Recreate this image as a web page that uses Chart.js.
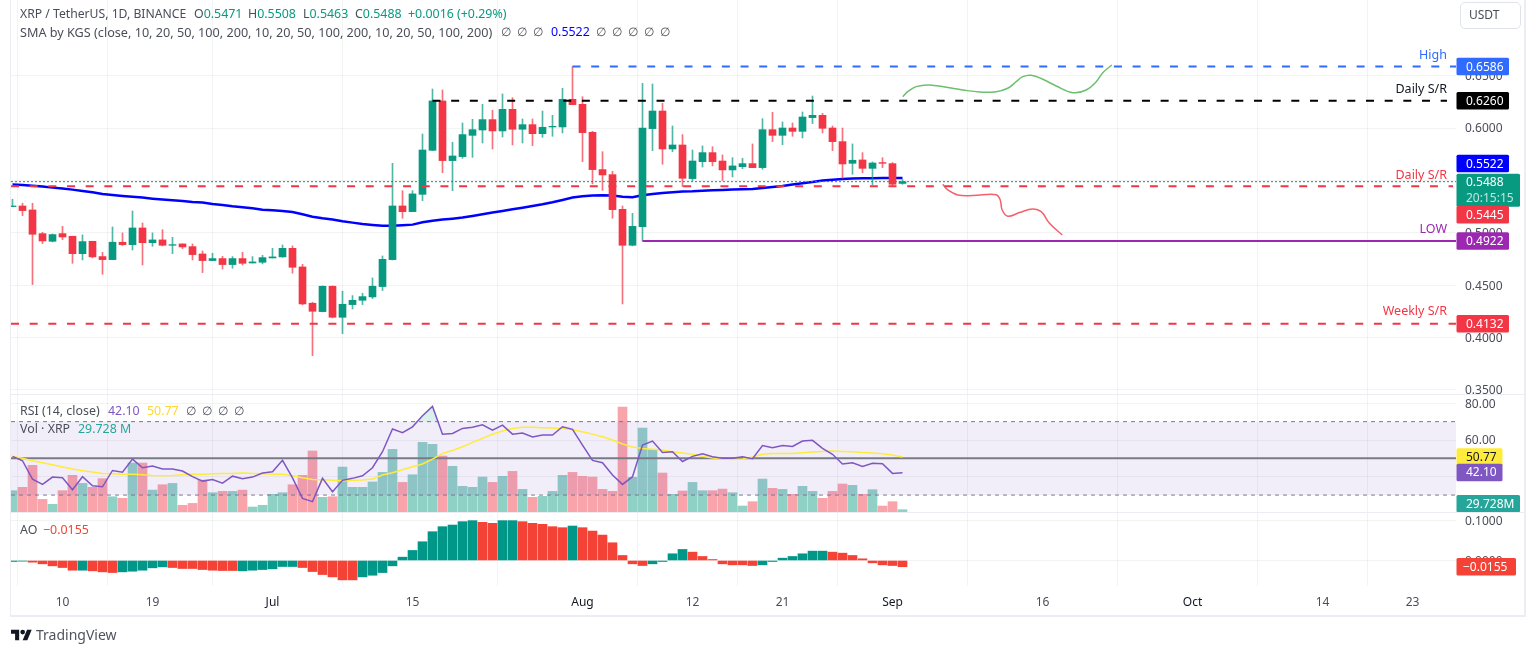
<!DOCTYPE html>
<html><head><meta charset="utf-8">
<script src="https://cdn.jsdelivr.net/npm/chart.js@4"></script>
<style>
html,body{margin:0;padding:0;background:#fff;width:1536px;height:653px;overflow:hidden;font-family:"Noto Sans",sans-serif}
canvas{position:absolute;left:0;display:block}
.t{position:absolute;white-space:pre;font-size:12.4px;line-height:16px;color:#4a4e59}
.fr{position:absolute;background:#ecedf2}
.g{color:#089981}
</style></head><body>
<canvas id="cPrice" width="1536" height="394" style="top:0"></canvas>
<canvas id="cRsi" width="1536" height="119" style="top:394px"></canvas>
<canvas id="cAo" width="1536" height="103" style="top:513px"></canvas>
<div class="fr" style="left:10px;top:0;width:1px;height:616px"></div>
<div class="fr" style="left:1524px;top:0;width:2px;height:616px"></div>
<div class="fr" style="left:10px;top:615px;width:1516px;height:2px"></div>
<div class="fr" style="left:11px;top:394px;width:1513px;height:1px"></div>
<div class="fr" style="left:11px;top:512px;width:1513px;height:1px"></div>
<div class="t" style="left:20px;top:6px;font-size:12.2px">XRP / TetherUS, 1D, BINANCE</div>
<div class="t" style="left:194px;top:6px">O<span class="g">0.5471</span></div>
<div class="t" style="left:248px;top:6px">H<span class="g">0.5508</span></div>
<div class="t" style="left:303px;top:6px">L<span class="g">0.5463</span></div>
<div class="t" style="left:355px;top:6px">C<span class="g">0.5488</span></div>
<div class="t g" style="left:408px;top:6px;color:#089981">+0.0016 (+0.29%)</div>
<div class="t" style="left:20px;top:24px;font-size:12.65px">SMA by KGS (close, 10, 20, 50, 100, 200, 10, 20, 50, 100, 200, 10, 20, 50, 100, 200)</div>
<div class="t" style="left:501px;top:24px;font-size:12px">∅</div>
<div class="t" style="left:517px;top:24px;font-size:12px">∅</div>
<div class="t" style="left:533px;top:24px;font-size:12px">∅</div>
<div class="t" style="left:551px;top:24px;color:#0000ff">0.5522</div>
<div class="t" style="left:596px;top:24px;font-size:12px">∅</div>
<div class="t" style="left:612px;top:24px;font-size:12px">∅</div>
<div class="t" style="left:628px;top:24px;font-size:12px">∅</div>
<div class="t" style="left:644px;top:24px;font-size:12px">∅</div>
<div class="t" style="left:660px;top:24px;font-size:12px">∅</div>
<div class="t" style="left:20px;top:403px">RSI (14, close)</div>
<div class="t" style="left:108px;top:403px;color:#7e57c2">42.10</div>
<div class="t" style="left:147px;top:403px;color:#fdd835">50.77</div>
<div class="t" style="left:186px;top:403px;font-size:12px">∅</div>
<div class="t" style="left:202px;top:403px;font-size:12px">∅</div>
<div class="t" style="left:218px;top:403px;font-size:12px">∅</div>
<div class="t" style="left:234px;top:403px;font-size:12px">∅</div>
<div class="t" style="left:20px;top:421px">Vol · XRP</div>
<div class="t" style="left:78px;top:421px;color:#26a69a">29.728 M</div>
<div class="t" style="left:20px;top:522px">AO</div>
<div class="t" style="left:43px;top:522px;color:#f44336">−0.0155</div>
<div style="position:absolute;left:1460px;top:2px;width:59px;height:25px;border:1px solid #e0e3eb;border-radius:5px"></div>
<div class="t" style="left:1469px;top:7px;font-size:12px">USDT</div>
<svg style="position:absolute;left:11px;top:628px" width="21" height="14" viewBox="0 3 36 20"><path fill="#131722" d="M14 22H7V11H0V4h14v18zM28 22h-8l7.5-18h8L28 22z"/><circle fill="#131722" cx="20" cy="8" r="4"/></svg>
<div class="t" style="left:36px;top:626px;font-size:14px;line-height:18px;color:#50535e">TradingView</div>
<script>
// ---- data (days counted from 5 June) ----
const open  = [.5250,.5256,.5218,.4992,.4919,.4992,.4967,.4801,.4919,.4773,.4744,.4910,.4887,.5046,.4906,.4932,.4881,.4894,.4868,.4798,.4735,.4754,.4697,.4754,.4712,.4719,.4760,.4770,.4852,.4674,.4328,.4248,.4490,.4194,.4315,.4356,.4388,.4487,.4744,.5256,.5202,.5367,.5787,.6258,.5689,.5727,.5930,.5981,.6080,.5972,.6178,.5988,.6032,.5946,.6010,.6010,.6274,.6226,.5959,.5603,.5555,.5224,.4881,.5059,.5994,.6162,.5800,.5838,.5517,.5679,.5765,.5685,.5600,.5631,.5660,.5622,.5984,.5930,.6000,.5968,.6099,.6121,.6000,.5870,.5663,.5695,.5615,.5670,.5660,.5471];
const high  = [.5320,.5282,.5282,.5005,.4989,.5062,.4967,.4980,.4919,.4814,.5056,.4999,.5208,.5094,.4999,.5030,.4957,.4894,.4894,.4827,.4805,.4776,.4773,.4814,.4773,.4785,.4852,.4884,.4875,.4700,.4337,.4493,.4493,.4442,.4401,.4423,.4569,.4779,.5663,.5402,.5402,.5943,.6372,.6363,.5864,.6048,.6083,.6226,.6169,.6325,.6290,.6086,.6086,.6162,.6121,.6379,.6586,.6299,.5968,.5774,.5587,.5256,.5186,.6426,.6420,.6236,.6019,.5937,.5790,.5829,.5822,.5743,.5717,.5711,.5848,.6089,.6150,.6058,.6048,.6153,.6305,.6140,.6019,.6000,.5848,.5765,.5676,.5717,.5670,.5508];
const low   = [.5250,.5164,.4506,.4897,.4913,.4935,.4709,.4741,.4760,.4604,.4744,.4878,.4836,.4693,.4871,.4875,.4801,.4849,.4741,.4620,.4735,.4655,.4662,.4693,.4712,.4703,.4760,.4766,.4614,.4312,.3828,.4245,.4188,.4038,.4273,.4315,.4372,.4449,.4741,.5139,.5202,.5307,.5784,.5574,.5402,.5711,.5720,.5857,.5800,.5914,.5838,.5857,.5832,.5911,.5921,.5953,.6223,.5679,.5466,.5405,.5139,.4321,.4875,.4922,.5784,.5654,.5774,.5441,.5498,.5628,.5638,.5498,.5533,.5612,.5622,.5606,.5870,.5841,.5921,.5905,.6042,.5953,.5784,.5520,.5558,.5574,.5460,.5622,.5447,.5463];
const close = [.5256,.5212,.4986,.4922,.4983,.4960,.4801,.4916,.4770,.4744,.4910,.4887,.5046,.4906,.4932,.4881,.4887,.4865,.4792,.4735,.4754,.4697,.4754,.4709,.4722,.4763,.4770,.4852,.4671,.4321,.4251,.4490,.4194,.4318,.4356,.4391,.4490,.4747,.5256,.5202,.5371,.5790,.6258,.5689,.5733,.5937,.5984,.6080,.5972,.6178,.5988,.6032,.5946,.6007,.6016,.6274,.6223,.5956,.5603,.5552,.5221,.4881,.5062,.6000,.6162,.5800,.5838,.5520,.5685,.5765,.5679,.5600,.5638,.5660,.5622,.5984,.5930,.6000,.5968,.6105,.6121,.5997,.5870,.5657,.5692,.5615,.5666,.5663,.5463,.5488];
const sma200 = [.5460,.5457,.5450,.5441,.5431,.5422,.5412,.5399,.5387,.5371,.5361,.5352,.5345,.5336,.5326,.5317,.5310,.5304,.5294,.5288,.5275,.5266,.5253,.5243,.5234,.5221,.5215,.5208,.5199,.5177,.5154,.5138,.5126,.5110,.5097,.5084,.5075,.5068,.5068,.5072,.5078,.5100,.5116,.5126,.5135,.5145,.5161,.5177,.5193,.5208,.5224,.5240,.5256,.5272,.5291,.5313,.5336,.5348,.5355,.5358,.5355,.5345,.5339,.5358,.5371,.5380,.5387,.5393,.5396,.5402,.5405,.5409,.5412,.5415,.5418,.5428,.5437,.5447,.5460,.5472,.5485,.5498,.5507,.5514,.5517,.5520,.5520,.5523,.5523,.5522];
const rsi = [51.1,48.7,38.7,35.8,39.8,39.4,32.9,40,35.1,34.5,43.4,42.5,49.6,44.9,45.8,44.2,44.2,43.1,40,37.6,38.5,36.5,40.3,38.9,39.8,42,42.7,48.9,39.4,28.2,26.4,39.1,31.8,38,39.1,40.5,44.9,53.6,66,64,67.2,73.2,78.3,63.2,63.6,66.3,67,68.3,65.4,68.1,63.2,63.8,61.6,62.7,62.7,67.2,65.8,57.2,48.9,47.6,40.9,35.8,40,57.2,59.4,53.2,53.6,48.3,51.1,52.5,50.9,50,50,50.9,49.8,57,55.8,57,56.5,59.4,59.8,55.4,52.2,46.9,47.6,45.6,47.3,47.1,41.8,42.1];
const rsiMa = [51.1,50,48.7,47.6,46.5,45.3,44.2,43.3,42.5,41.8,41.6,41.4,41.4,41.1,40.7,40.5,40.7,41.1,41.3,41.3,41.6,41.8,41.8,42,41.8,41.6,41.4,41.4,40.5,39.4,38.5,38.3,38,37.8,38,38.2,38.7,40.9,42.2,43.8,45.4,46.9,49.6,52.7,54.3,56.3,58.7,60.9,63.1,64.9,66.3,66.9,66.9,66.7,66.5,66.3,65.6,64.5,63.2,61.8,60,57.8,56.2,55.4,55,54.5,53.6,52.9,52.2,51.2,50.2,49.6,49.4,49.6,50.7,52.2,52.7,52.7,52.7,53.1,53.4,53.8,54,53.8,53.6,53.2,52.9,52.5,51.8,50.77];
const volume = [218,251,469,132,83,218,370,290,251,337,158,142,492,492,224,277,290,73,92,323,198,211,211,224,56,73,182,198,277,370,611,152,158,452,251,251,304,399,627,300,376,696,677,561,459,261,251,353,300,360,409,231,152,162,211,370,399,360,353,231,211,1046,350,838,624,393,182,215,300,218,218,234,198,66,109,333,241,231,182,261,211,142,211,284,271,182,228,66,109,29.728];
const ao = [-.0025,-.0017,-.0042,-.0083,-.0133,-.0175,-.0242,-.0242,-.0258,-.0283,-.03,-.0283,-.0267,-.0242,-.0183,-.0158,-.0175,-.02,-.02,-.0225,-.0242,-.025,-.025,-.0258,-.0242,-.0225,-.0208,-.015,-.015,-.0175,-.0275,-.035,-.0408,-.0483,-.0483,-.0408,-.0367,-.03,-.0133,.0083,.025,.0467,.0717,.0842,.0883,.0967,.0992,.095,.0925,.0992,.0992,.0967,.0925,.09,.0842,.0817,.0858,.0817,.0733,.0633,.0442,.0125,-.0083,-.0125,-.0083,-.0025,.0167,.0275,.0208,.01,.0025,-.0083,-.0108,-.0108,-.0125,-.0108,-.0025,.0058,.01,.0167,.0233,.0233,.0208,.0183,.0125,.0042,-.0058,-.0108,-.0125,-.0155];
const aoRising = [1,1,0,0,0,0,0,1,0,0,0,1,1,1,1,1,0,0,0,0,0,0,0,1,1,1,1,1,1,0,0,0,0,0,0,1,1,1,1,1,1,1,1,1,1,1,1,0,0,1,1,0,0,0,0,0,1,0,0,0,0,0,0,0,1,1,1,1,0,0,0,0,0,0,0,1,1,1,1,1,1,1,0,0,0,0,0,0,0,0];
const greenDays = [89.03,89.53,90.37,91.7,93.37,95.03,96.7,98.37,99.53,100.37,101.03,101.87,103.03,104.37,106.03,107.37,108.37,109.03,109.93];
const greenPrices = [.6299,.6347,.6395,.6410,.6388,.6363,.6344,.6347,.6379,.6442,.6490,.6503,.6465,.6401,.6337,.6363,.6442,.6528,.6601];
const redDays = [93.03,93.53,94.53,96.03,98.37,98.77,98.97,99.53,100.7,102.03,102.87,103.7,104.97];
const redPrices = [.5463,.5409,.5361,.5355,.5364,.5313,.5218,.5158,.5193,.5228,.5202,.5091,.4979];
const priceTicks = [.35,.4,.45,.5,.55,.6,.65];
const rsiTicks = [80,60,40];
const aoTicks = [.1,0];
const xTickDays = [5,14,26,40,57,68,77,88,103,118,131,140];
const xTickLabels = ['10','19','Jul','15','Aug','12','21','Sep','16','Oct','14','23'];
const HIGH=.6586, DAILY_UP=.6260, DAILY_DN=.5445, LOW=.4922, WEEKLY=.4132, LAST=.5488, SMA_LAST=.5522;

// ---- drawing settings ----
const days = close.map((_,i)=>i);
const X0=-.15, X1=144.35;
const GREEN='#089981', RED='#F23645';
const isUp = days.map(i=>close[i]>=open[i]);
const FONT='"Noto Sans",sans-serif';
const GRID='rgba(42,46,57,0.06)';
const line=(data,color,w,extra)=>Object.assign({type:'line',data,borderColor:color,borderWidth:w,pointRadius:0,tension:0,fill:false},extra);
const hl=(a,b,v)=>[{x:a,y:v},{x:b,y:v}];
const series=(xs,ys)=>xs.map((x,i)=>({x,y:ys[i]}));
function xAxis(showLabels){return {
  type:'linear',min:X0,max:X1,offset:false,
  afterBuildTicks:s=>{s.ticks=xTickDays.map(v=>({value:v}))},
  afterFit:s=>{s.height=showLabels?30:0;s.paddingLeft=s.paddingRight=0},
  grid:{color:GRID,drawTicks:false},border:{display:false},
  ticks:{display:showLabels,autoSkip:false,maxRotation:0,padding:9,font:{family:FONT,size:12},
    color:c=>/[A-Z]/.test(xTickLabels[c.index]||'')?'#131722':'#4a4e59',
    callback:v=>xTickLabels[xTickDays.indexOf(v)]}
}}
function yAxis(min,max,ticks,digits,extra){return Object.assign({
  type:'linear',position:'right',min,max,
  afterBuildTicks:s=>{s.ticks=ticks.map(v=>({value:v}))},
  afterFit:s=>{s.width=68;s.paddingTop=s.paddingBottom=0},
  grid:{color:GRID,drawTicks:false},border:{display:false},
  ticks:{autoSkip:false,padding:9,labelOffset:1,color:'#4a4e59',font:{family:FONT,size:12},callback:v=>v.toFixed(digits)}
},extra)}
const tagsPlugin={id:'tags',afterDraw(ch,_,o){
  const c=ch.ctx;c.save();c.textBaseline='middle';
  (o.labels||[]).forEach(l=>{
    const y=ch.scales[l.axis].getPixelForValue(l.v);
    c.font='12.5px '+FONT;c.textAlign='right';c.fillStyle=l.color;c.fillText(l.text,1447,y+l.dy);
  });
  (o.items||[]).forEach(t=>{
    const y=ch.scales[t.axis].getPixelForValue(t.v)+(t.dy||0), h=t.h||17.5, x=1456.5;
    c.fillStyle=t.bg;c.beginPath();c.roundRect(x,y-h/2,t.w||52.5,h,1.5);c.fill();
    c.font='12px '+FONT;c.textAlign='left';c.fillStyle=t.fg||'#fff';
    if(t.sub){c.fillText(t.text,1466,y-8);c.fillStyle='rgba(255,255,255,.75)';c.fillText(t.sub,1466,y+8);}
    else c.fillText(t.text,t.tx||1466,y+.5);
  });
  c.restore();
}};
Chart.defaults.animation=false;
Chart.defaults.responsive=false;
Chart.defaults.devicePixelRatio=1;
const common=(top,bottom)=>({
  maintainAspectRatio:false,devicePixelRatio:1,
  layout:{padding:{left:11,right:12,top,bottom}},
  interaction:{mode:null},events:[]
});
const plug=o=>({legend:{display:false},tooltip:{enabled:false},title:{display:false},tags:o});

new Chart(document.getElementById('cPrice'),{type:'bar',plugins:[tagsPlugin],data:{datasets:[
  line(series(days,sma200),'#0000ff',2.5,{order:5,yAxisID:'y'}),
  {type:'bar',order:4,grouped:false,barThickness:1,data:days.map(i=>({x:i,y:[low[i],high[i]]})),backgroundColor:days.map(i=>isUp[i]?'rgba(8,153,129,.7)':'rgba(242,54,69,.7)')},
  {type:'bar',order:3,grouped:false,barThickness:7,data:days.map(i=>({x:i,y:[open[i],close[i]]})),backgroundColor:days.map(i=>isUp[i]?GREEN:RED)},
  line(hl(X0,X1,LAST),'#089981',1,{order:2,borderDash:[2,2]}),
  line(hl(56,X1,HIGH),'#2f6bff',2,{order:1,borderDash:[8,10.67]}),
  line(hl(42,143.45,DAILY_UP),'#000000',2,{order:1,borderDash:[8,10.67]}),
  line(hl(X0,144.05,DAILY_DN),RED,2,{order:1,borderDash:[8,10.67]}),
  line(hl(X0,X1,WEEKLY),RED,2,{order:1,borderDash:[8,10.67]}),
  line(hl(63,X1,LOW),'#9c27b0',2,{order:1}),
  line(series(greenDays,greenPrices),'#6cbf6f',1.5,{order:1,tension:.4}),
  line(series(redDays,redPrices),'#f4606c',1.5,{order:1,tension:.4})
]},options:Object.assign(common(0,0),{
  scales:{x:xAxis(false),y:yAxis(.34618,.72214,priceTicks,4)},
  plugins:plug({
    labels:[
      {axis:'y',v:HIGH,dy:-11,color:'#2f6bff',text:'High'},
      {axis:'y',v:DAILY_UP,dy:-11.5,color:'#131722',text:'Daily S/R'},
      {axis:'y',v:DAILY_DN,dy:-11,color:RED,text:'Daily S/R'},
      {axis:'y',v:LOW,dy:-12,color:'#9c27b0',text:'LOW'},
      {axis:'y',v:WEEKLY,dy:-12,color:RED,text:'Weekly S/R'}
    ],
    items:[
      {axis:'y',v:HIGH,bg:'#2f6bff',text:HIGH.toFixed(4)},
      {axis:'y',v:DAILY_UP,bg:'#000000',text:DAILY_UP.toFixed(4)},
      {axis:'y',v:SMA_LAST,dy:-14.5,bg:'#0000ff',text:SMA_LAST.toFixed(4)},
      {axis:'y',v:LAST,dy:8.5,h:33,w:63.5,bg:GREEN,text:LAST.toFixed(4),sub:'20:15:15'},
      {axis:'y',v:DAILY_DN,dy:28.5,bg:RED,text:DAILY_DN.toFixed(4)},
      {axis:'y',v:LOW,bg:'#9c27b0',text:LOW.toFixed(4)},
      {axis:'y',v:WEEKLY,bg:RED,text:WEEKLY.toFixed(4)}
    ]})
})});

new Chart(document.getElementById('cRsi'),{type:'bar',plugins:[tagsPlugin],data:{datasets:[
  {type:'bar',order:5,grouped:false,barThickness:9,yAxisID:'vol',data:days.map(i=>({x:i,y:volume[i]})),backgroundColor:days.map(i=>isUp[i]?'rgba(8,153,129,.45)':'rgba(242,54,69,.45)')},
  line(hl(X0,X1,70),'#787b86',1,{order:4,yAxisID:'y',borderDash:[4,4],fill:{value:30},backgroundColor:'rgba(126,87,194,.1)'}),
  line(hl(X0,X1,30),'#787b86',1,{order:4,yAxisID:'y',borderDash:[4,4]}),
  line(hl(X0,X1,50),'#787b86',2,{order:3,yAxisID:'y'}),
  line(series(days,rsiMa),'#ffeb3b',1.5,{order:2,yAxisID:'y'}),
  line(series(days,rsi),'#7e57c2',1.5,{order:1,yAxisID:'y',fill:{target:{value:70},above:'rgba(8,153,129,.15)',below:'rgba(0,0,0,0)'}})
]},options:Object.assign(common(0,0),{
  scales:{x:xAxis(false),y:yAxis(20.22,85.07,rsiTicks,2),
    vol:yAxis(-3,1175,[],0,{display:false,grid:{display:false},afterFit:s=>{s.width=0;s.paddingTop=s.paddingBottom=0}})},
  plugins:plug({items:[
    {axis:'y',v:rsiMa[89],w:46,bg:'#ffeb3b',fg:'#131722',text:rsiMa[89].toFixed(2)},
    {axis:'y',v:rsi[89],dy:-.3,w:46,bg:'#7e57c2',text:rsi[89].toFixed(2)},
    {axis:'vol',v:volume[89],dy:-6,w:63.5,bg:'#26a69a',text:volume[89].toFixed(3)+'M'}
  ]})
})});

new Chart(document.getElementById('cAo'),{type:'bar',plugins:[tagsPlugin],data:{datasets:[
  {type:'bar',grouped:false,barThickness:9,data:days.map(i=>({x:i,y:ao[i]})),backgroundColor:days.map(i=>aoRising[i]?'#009688':'#F44336')}
]},options:Object.assign(common(0,0),{
  scales:{x:xAxis(true),y:yAxis(-.0635,.11825,aoTicks,4)},
  plugins:plug({items:[{axis:'y',v:ao[89],w:59.5,bg:'#F44336',text:'−'+Math.abs(ao[89]).toFixed(4),tx:1463}]})
})});
</script>
</body></html>
